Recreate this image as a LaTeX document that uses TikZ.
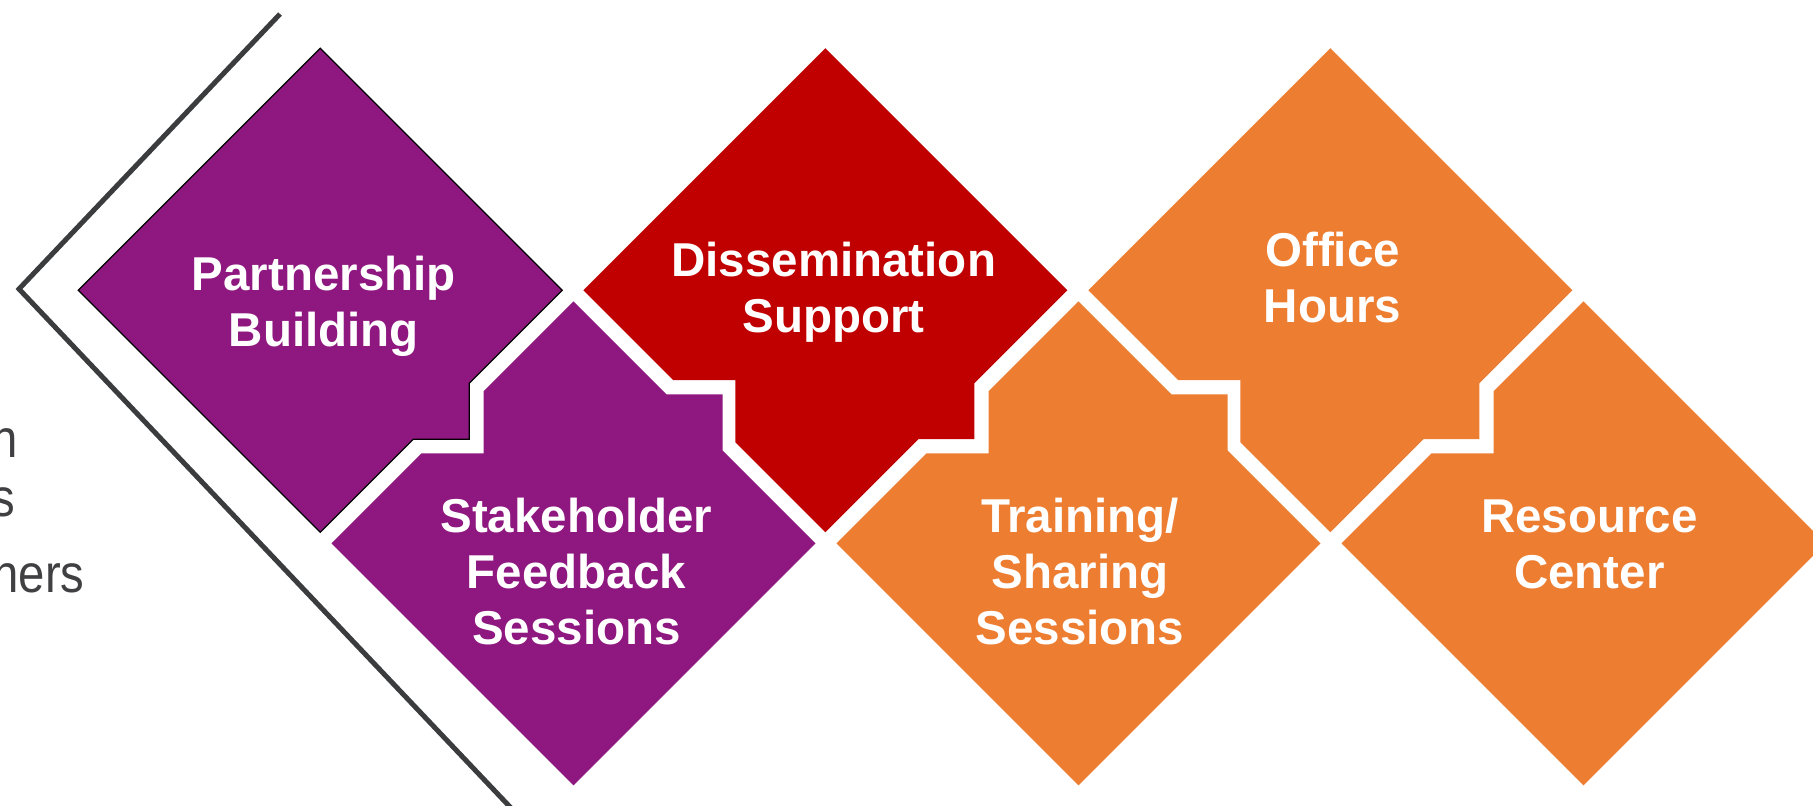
\documentclass[tikz,border=0pt]{standalone}
\usepackage{fontspec}
\setmainfont{Liberation Sans}
\newfontfamily\grayfont[FakeStretch=0.88]{Liberation Sans}
\definecolor{cpurple}{RGB}{142,23,128}
\definecolor{cred}{RGB}{192,0,0}
\definecolor{corange}{RGB}{237,125,49}
\definecolor{cchev}{RGB}{58,60,62}
\definecolor{cgray}{RGB}{64,64,66}
\begin{document}
\begin{tikzpicture}[x=0.4pt,y=-0.4pt,
  pshape/.style={fill=cpurple},
  rshape/.style={fill=cred},
  oshape/.style={fill=corange},
  lbl/.style={text=white,font=\bfseries\fontsize{19}{22.4}\selectfont,anchor=base,inner sep=0pt},
  gtxt/.style={text=cgray,font=\grayfont\fontsize{21.5}{24}\selectfont,anchor=base east,inner sep=0pt},
  chev/.style={draw=cchev,line width=2pt,line join=miter}]
\useasboundingbox (0,0) rectangle (1813,806);
\clip (0,0) rectangle (1813,806);
% chevron
\coordinate (c1) at (280,14);
\coordinate (c2) at (19,289);
\coordinate (c3) at (530,828);
\draw[chev] (c1) -- (c2) -- (c3);
% left text fragments
\node[gtxt] (g1) at (18,457) {n};
\node[gtxt] (g2) at (16,516) {s};
\node[gtxt] (g3) at (85,592) {ners};
% Partnership (top row)
\begin{scope}[shift={(320.3,290.2)}]
\filldraw[pshape,draw=black,line width=0.5pt] (0,-242) -- (242,0) -- (149,93) -- (149,149) -- (93,149) -- (0,242) -- (-242,0) -- cycle;
\end{scope}
% Dissemination
\begin{scope}[shift={(825.3,290.2)}]
\fill[rshape] (0,-242) -- (242,0) -- (149,93) -- (149,149) -- (93,149) -- (0,242) -- (-90,152) -- (-90,90) -- (-152,90) -- (-242,0) -- cycle;
\end{scope}
% Office Hours
\begin{scope}[shift={(1330.3,290.2)}]
\fill[oshape] (0,-242) -- (242,0) -- (149,93) -- (149,149) -- (93,149) -- (0,242) -- (-90,152) -- (-90,90) -- (-152,90) -- (-242,0) -- cycle;
\end{scope}
% Stakeholder (bottom row)
\begin{scope}[shift={(573.5,543.4)}]
\fill[pshape] (0,-242) -- (93,-149) -- (149,-149) -- (149,-93) -- (242,0) -- (0,242) -- (-242,0) -- (-152,-90) -- (-90,-90) -- (-90,-152) -- cycle;
\end{scope}
% Training
\begin{scope}[shift={(1078.5,543.4)}]
\fill[oshape] (0,-242) -- (93,-149) -- (149,-149) -- (149,-93) -- (242,0) -- (0,242) -- (-242,0) -- (-152,-90) -- (-90,-90) -- (-90,-152) -- cycle;
\end{scope}
% Resource
\begin{scope}[shift={(1583.5,543.4)}]
\fill[oshape] (0,-242) -- (242,0) -- (0,242) -- (-242,0) -- (-152,-90) -- (-90,-90) -- (-90,-152) -- cycle;
\end{scope}
% labels
\node[lbl] (t1) at (323.7,290) {\begin{tabular}[t]{@{}c@{}}Partnership\\Building\end{tabular}};
\node[lbl] (t2) at (833.7,276) {\begin{tabular}[t]{@{}c@{}}Dissemination\\Support\end{tabular}};
\node[lbl] (t3) at (1332.6,266) {\begin{tabular}[t]{@{}c@{}}Office\\Hours\end{tabular}};
\node[lbl] (t4) at (576.4,532) {\begin{tabular}[t]{@{}c@{}}Stakeholder\\Feedback\\Sessions\end{tabular}};
\node[lbl] (t5) at (1080,532) {\begin{tabular}[t]{@{}c@{}}Training/\\Sharing\\Sessions\end{tabular}};
\node[lbl] (t6) at (1589.3,532) {\begin{tabular}[t]{@{}c@{}}Resource\\Center\end{tabular}};
\end{tikzpicture}
\end{document}
